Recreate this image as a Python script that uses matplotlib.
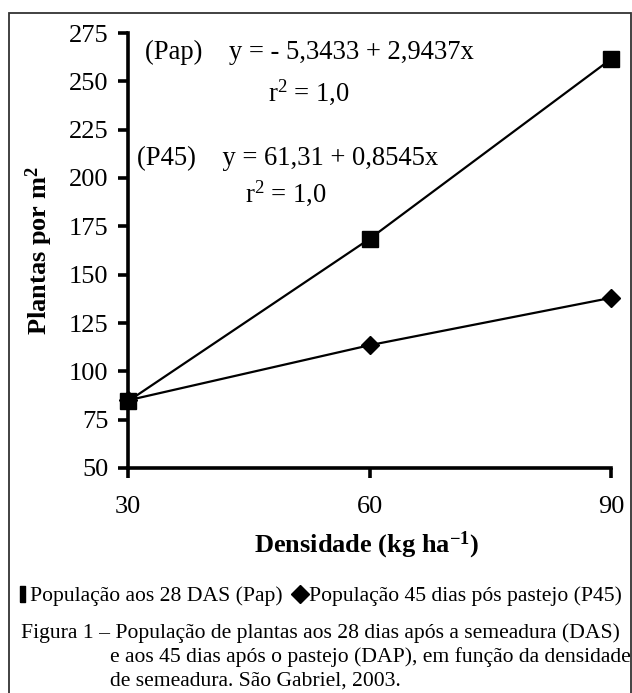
import matplotlib
matplotlib.use("Agg")
import matplotlib.pyplot as plt
from matplotlib.lines import Line2D
from matplotlib.patches import Rectangle

plt.rcParams['font.family'] = ['Liberation Serif', 'DejaVu Sans']
plt.rcParams['mathtext.fontset'] = 'custom'
plt.rcParams['mathtext.rm'] = 'Liberation Serif'
plt.rcParams['mathtext.it'] = 'Liberation Serif:italic'
plt.rcParams['mathtext.bf'] = 'Liberation Serif:bold'

# Data
densidade = [30, 60, 90]
pap = [84.5, 168.5, 261.5]
p45 = [85.0, 113.5, 138.0]
yticks = [50, 75, 100, 125, 150, 175, 200, 225, 250, 275]
xticks = [30, 60, 90]

W, H = 632, 693
fig = plt.figure(figsize=(W / 100, H / 100), dpi=100)

def fx(px):
    return px / W

def fy(py):
    return 1 - py / H

ax = fig.add_axes([fx(128), fy(468), fx(611) - fx(128), fy(33) - fy(468)])

ax.plot(densidade, p45, color='black', lw=1.6, marker='D', ms=9,
        clip_on=False, zorder=3)
ax.plot(densidade, pap, color='black', lw=1.6, marker='s', ms=11,
        clip_on=False, zorder=4)

ax.set_xlim(30, 90)
ax.set_ylim(50, 275)
ax.set_xticks(xticks)
ax.set_yticks(yticks)
for s in ['top', 'right']:
    ax.spines[s].set_visible(False)
for s in ['left', 'bottom']:
    ax.spines[s].set_linewidth(2.6)
ax.tick_params(axis='both', direction='out', length=7, width=2.6,
               labelsize=19)
ax.tick_params(axis='x', pad=13)
ax.tick_params(axis='y', pad=7)

# axis labels
fig.text(fx(39), fy(251), 'Plantas por m$^\\mathbf{2}$', rotation=90,
         ha='center', va='center', fontsize=19, fontweight='bold')
fig.text(fx(367), fy(545), 'Densidade (kg ha$^\\mathbf{-1}$)',
         ha='center', va='center', fontsize=19, fontweight='bold')

# equations
eq_fs = 19.2
fig.text(fx(145), fy(52), '(Pap)    y = - 5,3433 + 2,9437x', ha='left',
         va='center', fontsize=eq_fs)
fig.text(fx(268), fy(92), 'r$^2$ = 1,0', ha='left', va='center', fontsize=eq_fs)
fig.text(fx(137), fy(158), '(P45)    y = 61,31 + 0,8545x', ha='left',
         va='center', fontsize=eq_fs)
fig.text(fx(245), fy(193), 'r$^2$ = 1,0', ha='left', va='center', fontsize=eq_fs)

# legend
bar_marker = [(-0.3, -1), (0.3, -1), (0.3, 1), (-0.3, 1), (-0.3, -1)]
h1 = Line2D([], [], color='black', lw=0, marker=bar_marker, ms=12)
h2 = Line2D([], [], color='black', lw=0, marker='D', ms=9)
fig.legend([h1, h2], ['População aos 28 DAS (Pap)',
                      'População 45 dias pós pastejo (P45)'],
           loc='center left', bbox_to_anchor=(fx(15), fy(596)), ncol=2,
           frameon=False, fontsize=15.6, handlelength=0.6,
           handletextpad=0.1, columnspacing=0.5, borderaxespad=0,
           borderpad=0)

# caption
cap_fs = 15.6
fig.text(fx(21), fy(633),
         'Figura 1 – População de plantas aos 28 dias após a semeadura (DAS)',
         ha='left', va='center', fontsize=cap_fs)
fig.text(fx(110), fy(657),
         'e aos 45 dias após o pastejo (DAP), em função da densidade',
         ha='left', va='center', fontsize=cap_fs)
fig.text(fx(110), fy(681), 'de semeadura. São Gabriel, 2003.',
         ha='left', va='center', fontsize=cap_fs)

# border
fig.add_artist(Rectangle((fx(9), fy(700)), fx(631) - fx(9), fy(13) - fy(700),
                         transform=fig.transFigure, fill=False,
                         edgecolor='#333333', lw=1.3))

fig.savefig('out.png', dpi=100, facecolor='white')
